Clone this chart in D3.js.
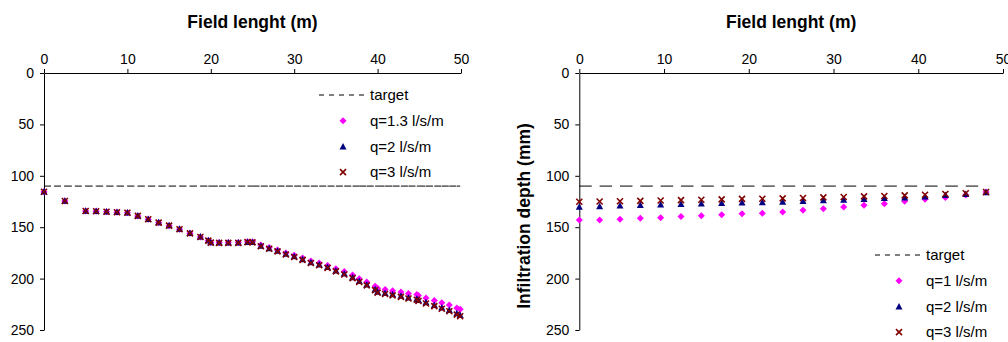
<!DOCTYPE html>
<html>
<head>
<meta charset="utf-8">
<script src="https://cdn.jsdelivr.net/npm/d3@7"></script>
<style>
  body { margin: 0; background: #fff; }
  svg { font-family: "Liberation Sans", Arial, sans-serif; }
</style>
</head>
<body>
<svg id="chart" width="1008" height="342"></svg>
<script>
// shared axis values
const xTicks = [0, 10, 20, 30, 40, 50];
const yTicks = [0, 50, 100, 150, 200, 250];
const targetDepth = 110;

// left panel: distance along field (m) and infiltration depth (mm)
const leftX = [0, 2.5, 5, 6.25, 7.5, 8.75, 10, 11.25, 12.5, 13.75, 15, 16.25, 17.5, 18.75,
  19.7, 20, 21, 22.1, 23.3, 24.4, 25, 26, 27, 28, 29, 30, 31, 32, 33, 34, 35,
  36, 37, 37.8, 38.7, 39.7, 40, 40.9, 41.8, 42.8, 43.7, 44.7, 44.9,
  45.8, 46.8, 47.7, 48.6, 49.5, 49.9];
const leftQ13 = [115.5, 124.5, 134.2, 134.5, 135, 135.5, 136, 139, 142.3, 145.6, 148.5, 152, 156, 159.5,
  163, 164.8, 165, 165, 164.8, 164.2, 164.2, 167.4, 169.8, 172.2, 175, 177.3, 180, 182.8, 184.8, 187.2, 190.4,
  193.2, 196.5, 200.1, 203.2, 207.5, 209.5, 210.6, 211.8, 213, 214.5, 215.5, 216.5,
  218.8, 221.2, 223.4, 225.6, 228.5, 229.8];
const leftQ2 = [115.3, 124.2, 133.9, 134.2, 134.7, 135.2, 135.7, 138.7, 142, 145.2, 148.1, 151.6, 155.6, 159.1,
  162.7, 164.6, 164.9, 164.9, 164.9, 164.3, 164.5, 168, 170.4, 172.9, 175.9, 178.3, 181.1, 184.1, 186.3, 188.8, 192.2,
  195.1, 198.6, 202.4, 205.7, 210.3, 212.7, 214, 215.3, 216.8, 218.3, 219.5, 220.7,
  223.1, 225.6, 228.1, 230.6, 233.8, 235.3];
const leftQ3 = [115.5, 124.5, 134.2, 134.5, 135, 135.5, 136, 139, 142.3, 145.6, 148.5, 152, 156, 159.5,
  163, 165, 165.2, 165.2, 165.2, 164.5, 164.8, 168.5, 171, 173.5, 176.5, 179, 181.8, 184.8, 187, 189.6, 193,
  196, 199.5, 203.3, 206.6, 211.2, 213.7, 215, 216.3, 217.8, 219.4, 220.6, 221.8,
  224.2, 226.8, 229.3, 231.8, 235, 236.6];
const leftLabels = ["target", "q=1.3 l/s/m", "q=2 l/s/m", "q=3 l/s/m"];

// right panel
const rightX = [0, 2.4, 4.8, 7.2, 9.6, 12, 14.4, 16.8, 19.2, 21.6, 24, 26.4, 28.8, 31.2, 33.6, 36, 38.4, 40.8, 43.2, 45.6, 48];
const rightQ1 = [143, 143, 142.3, 141.4, 140.7, 139.7, 138.8, 137.8, 136.8, 136.5, 135.2, 133.6, 132, 130.4, 128.7, 127.1, 124.8, 122.9, 121, 118.7, 115.8];
const rightQ2 = [130, 129.5, 129, 128.5, 128, 127.5, 127, 126.5, 126, 125.8, 125.2, 124.5, 123.9, 123.2, 122.6, 121.6, 121, 120.1, 118.7, 117.7, 116.1];
const rightQ3 = [125.2, 125, 124.7, 124.4, 124, 123.6, 123.3, 122.9, 122.5, 122.3, 122, 121.6, 121, 120.6, 120, 119.6, 119, 118.4, 117.7, 117, 115.8];
const rightLabels = ["target", "q=1 l/s/m", "q=2 l/s/m", "q=3 l/s/m"];

const svg = d3.select("#chart");

// marker shapes, centred on 0,0
const markers = {
  diamond: { d: "M0,-3.5L3.5,0L0,3.5L-3.5,0Z", fill: "#ff00ff", stroke: "none" },
  triangle: { d: "M0,-3.5L3.5,3L-3.5,3Z", fill: "#000080", stroke: "none" },
  cross: { d: "M-3,-3L3,3M3,-3L-3,3", fill: "none", stroke: "#800000" }
};

function addMarker(sel, type) {
  const m = markers[type];
  sel.append("path")
    .attr("d", m.d)
    .attr("fill", m.fill)
    .attr("stroke", m.stroke)
    .attr("stroke-width", 1.6);
}

function drawPanel(p) {
  const x = d3.scaleLinear().domain([0, 50]).range([p.left, p.right]);
  const y = d3.scaleLinear().domain([0, 250]).range([73, 330]);
  const g = svg.append("g");

  // axes
  g.append("g")
    .attr("transform", "translate(0,73)")
    .call(d3.axisTop(x).tickValues(xTicks).tickSize(4).tickSizeOuter(0).tickPadding(5))
    .call(a => a.selectAll("text").attr("font-size", 14).attr("fill", "#000").attr("font-family", null));
  g.append("g")
    .attr("transform", "translate(" + p.left + ",0)")
    .call(d3.axisLeft(y).tickValues(yTicks).tickSize(4).tickSizeOuter(0).tickPadding(6))
    .call(a => a.selectAll("text").attr("font-size", 14).attr("fill", "#000").attr("font-family", null));

  g.append("text")
    .attr("x", (p.left + p.right) / 2)
    .attr("y", 28)
    .attr("text-anchor", "middle")
    .attr("font-size", 17.5)
    .attr("font-weight", "bold")
    .text("Field lenght (m)");

  if (p.yTitle) {
    g.append("text")
      .attr("transform", "translate(530,216) rotate(-90)")
      .attr("text-anchor", "middle")
      .attr("font-size", 17.5)
      .attr("font-weight", "bold")
      .text(p.yTitle);
  }

  // target line, drawn segment by segment like the original
  g.selectAll(".target")
    .data(d3.pairs(p.xs))
    .join("line")
    .attr("x1", d => x(d[0]))
    .attr("x2", d => x(d[1]))
    .attr("y1", y(targetDepth))
    .attr("y2", y(targetDepth))
    .attr("stroke", "#000")
    .attr("stroke-dasharray", p.dash);

  // series
  p.series.forEach(s => {
    const pts = g.selectAll(null)
      .data(s.values.map((v, i) => [p.xs[i], v]))
      .join("g")
      .attr("transform", d => "translate(" + x(d[0]) + "," + y(d[1]) + ")");
    addMarker(pts, s.marker);
  });

  // legend
  const lg = g.append("g").attr("font-size", 15);
  lg.append("line")
    .attr("x1", p.legend.x - 24).attr("x2", p.legend.x + 24)
    .attr("y1", p.legend.y).attr("y2", p.legend.y)
    .attr("stroke", "#000")
    .attr("stroke-dasharray", "5,5");
  p.labels.forEach((t, i) => {
    const yy = p.legend.y + i * 25.7;
    lg.append("text")
      .attr("x", p.legend.x + 27)
      .attr("y", yy)
      .attr("dy", "0.35em")
      .text(t);
    if (i > 0) {
      addMarker(lg.append("g").attr("transform", "translate(" + p.legend.x + "," + yy + ")"), p.series[i - 1].marker);
    }
  });
}

drawPanel({
  left: 44, right: 461, xs: leftX, dash: "7,3",
  series: [
    { values: leftQ13, marker: "diamond" },
    { values: leftQ2, marker: "triangle" },
    { values: leftQ3, marker: "cross" }
  ],
  labels: leftLabels,
  legend: { x: 343, y: 95 }
});

drawPanel({
  left: 579.3, right: 1003, xs: rightX, dash: "12.5,8",
  yTitle: "Infiltration depth (mm)",
  series: [
    { values: rightQ1, marker: "diamond" },
    { values: rightQ2, marker: "triangle" },
    { values: rightQ3, marker: "cross" }
  ],
  labels: rightLabels,
  legend: { x: 899, y: 255 }
});
</script>
</body>
</html>
